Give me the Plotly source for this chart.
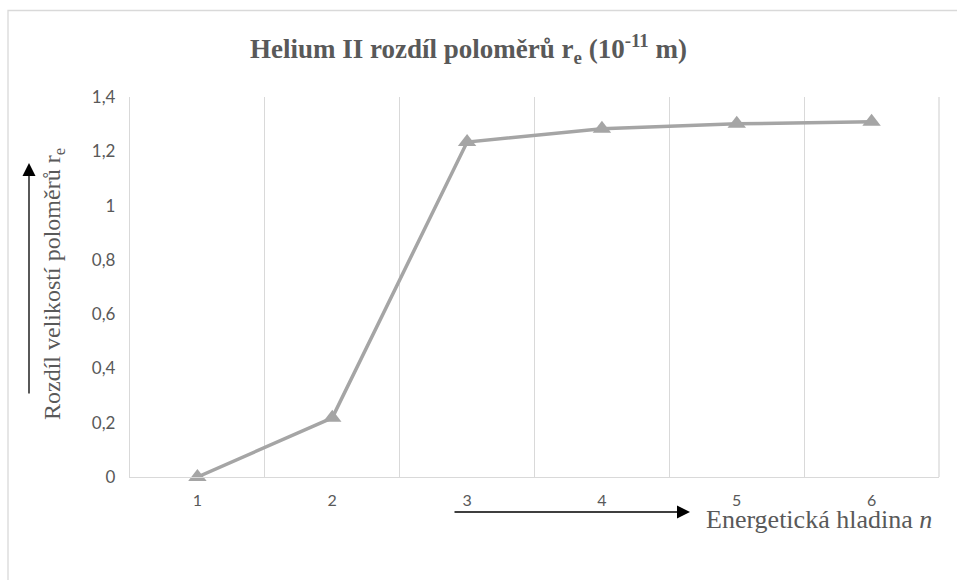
import plotly.graph_objects as go

categories = ["1", "2", "3", "4", "5", "6"]
values = [0.0, 0.218, 1.234, 1.283, 1.301, 1.309]
y_ticks = [0, 0.2, 0.4, 0.6, 0.8, 1.0, 1.2, 1.4]
y_tick_labels = ["0", "0,2", "0,4", "0,6", "0,8", "1", "1,2", "1,4"]

GRID = "#d9d9d9"
TXT = "#595959"
SERIF = "Liberation Serif, Times New Roman, serif"
SANS = "Lato, Open Sans, sans-serif"

L, R, T, B = 130, 957 - 939, 97, 580 - 477
PW, PH = 939 - 130, 477 - 97

def px(x):
    return (x - L) / PW

def py(y):
    return (477 - y) / PH

fig = go.Figure()
fig.add_trace(go.Scatter(
    x=categories, y=values, mode="lines+markers",
    line=dict(color="#a5a5a5", width=3.5),
    marker=dict(symbol="triangle-up", size=16, color="#a5a5a5"),
    cliponaxis=False, showlegend=False,
))

fig.update_layout(
    width=957, height=580,
    margin=dict(l=L, r=R, t=T, b=B),
    paper_bgcolor="white", plot_bgcolor="white",
    separators=", ",
    xaxis=dict(
        type="category", tickson="boundaries", showgrid=True, gridcolor=GRID, gridwidth=1.3,
        showline=True, linecolor=GRID, linewidth=1.3, ticks="", zeroline=False,
        ticklabelstandoff=9,
        tickfont=dict(family=SANS, size=16, color=TXT),
        range=[-0.5, 5.5],
    ),
    yaxis=dict(
        range=[0, 1.4], tickvals=y_ticks, ticktext=y_tick_labels, showgrid=False,
        showline=True, linecolor=GRID, linewidth=1.3, zeroline=False, ticks="",
        ticklabelstandoff=10,
        tickfont=dict(family=SANS, size=17, color=TXT),
    ),
    shapes=[
        dict(type="rect", xref="paper", yref="paper",
             x0=px(8), x1=px(1000), y0=py(640), y1=py(10.5),
             line=dict(color=GRID, width=1.3), fillcolor="rgba(0,0,0,0)", layer="below"),
        dict(type="line", xref="paper", yref="paper",
             x0=1, x1=1, y0=0, y1=1, line=dict(color=GRID, width=1.3)),
    ],
    annotations=[
        dict(text="<b>Helium II rozdíl poloměrů r<sub>e</sub> (10<sup>-11</sup> m)</b>",
             xref="paper", yref="paper", x=px(468), y=py(49), showarrow=False,
             xanchor="center", yanchor="middle",
             font=dict(family=SERIF, size=27, color=TXT)),
        dict(text="Rozdíl velikostí poloměrů r<sub>e</sub>", textangle=-90,
             xref="paper", yref="paper", x=px(54), y=py(284), showarrow=False,
             xanchor="center", yanchor="middle",
             font=dict(family=SERIF, size=24, color=TXT)),
        dict(text="Energetická hladina <i>n</i>",
             xref="paper", yref="paper", x=px(704), y=py(519), showarrow=False,
             xanchor="left", yanchor="middle",
             font=dict(family=SERIF, size=26, color=TXT)),
        dict(text="", xref="paper", yref="paper", x=px(690), y=py(512),
             showarrow=True, ax=-237, ay=0, arrowhead=2, arrowsize=2,
             arrowwidth=1.3, arrowcolor="black"),
        dict(text="", xref="paper", yref="paper", x=px(29), y=py(163),
             showarrow=True, ax=0, ay=232, arrowhead=2, arrowsize=2,
             arrowwidth=1.3, arrowcolor="black"),
    ],
)

fig.write_html("out.html", config={"displayModeBar": False},
               post_script="document.body.style.margin='0';")
